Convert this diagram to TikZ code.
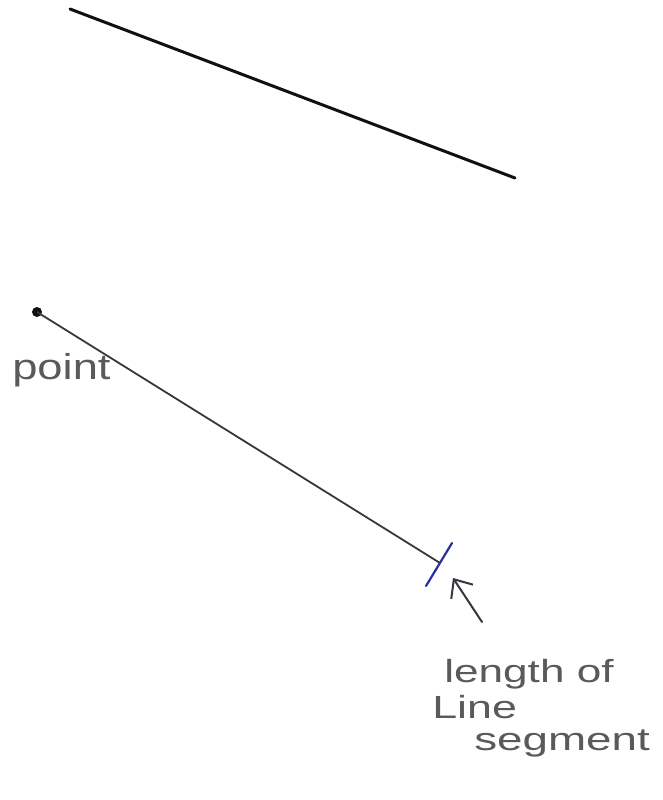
\documentclass[tikz,border=0pt]{standalone}
\usepackage{fontspec}
\setmainfont{Liberation Sans}
\usetikzlibrary{arrows.meta}
\definecolor{ink}{HTML}{111111}
\definecolor{pencil}{HTML}{3A3640}
\definecolor{bluepen}{HTML}{2B2F9E}
\definecolor{txt}{HTML}{5A5A5A}
\tikzset{
  hand/.style={text=txt, inner sep=0pt, anchor=base west, transform shape},
}
\begin{document}
\begin{tikzpicture}[x=1pt,y=-1pt]
\useasboundingbox[fill=white] (0,0) rectangle (662,800);
% top line
\coordinate (t1) at (70,9);
\coordinate (t2) at (515,178);
\draw[ink, line width=3pt, line cap=round] (t1) -- (t2);
% point and segment
\node[circle, fill=ink, inner sep=0pt, minimum size=10pt] (pt) at (37,312) {};
\coordinate (segend) at (440,563);
\draw[pencil, line width=1.8pt] (pt.center) -- (segend);
% tick
\coordinate (tk1) at (452,543);
\coordinate (tk2) at (426,586);
\draw[bluepen, line width=2.2pt, line cap=round] (tk1) -- (tk2);
% arrow
\coordinate (atail) at (482,622);
\coordinate (atip) at (453,578);
\draw[pencil, line width=2pt, line cap=round, -{Straight Barb[length=15pt,width=26pt,line width=2pt]}] (atail) -- (atip);
% labels
\node[hand, font=\fontsize{36}{36}\selectfont, xscale=1.26] (lpoint) at (12,379) {point};
\node[hand, font=\fontsize{32}{32}\selectfont, xscale=1.38] (llen) at (444,682) {length of};
\node[hand, font=\fontsize{32}{32}\selectfont, xscale=1.4] (lline) at (432,718) {Line};
\node[hand, font=\fontsize{32}{32}\selectfont, xscale=1.43] (lseg) at (474,750) {segment};
\end{tikzpicture}
\end{document}
